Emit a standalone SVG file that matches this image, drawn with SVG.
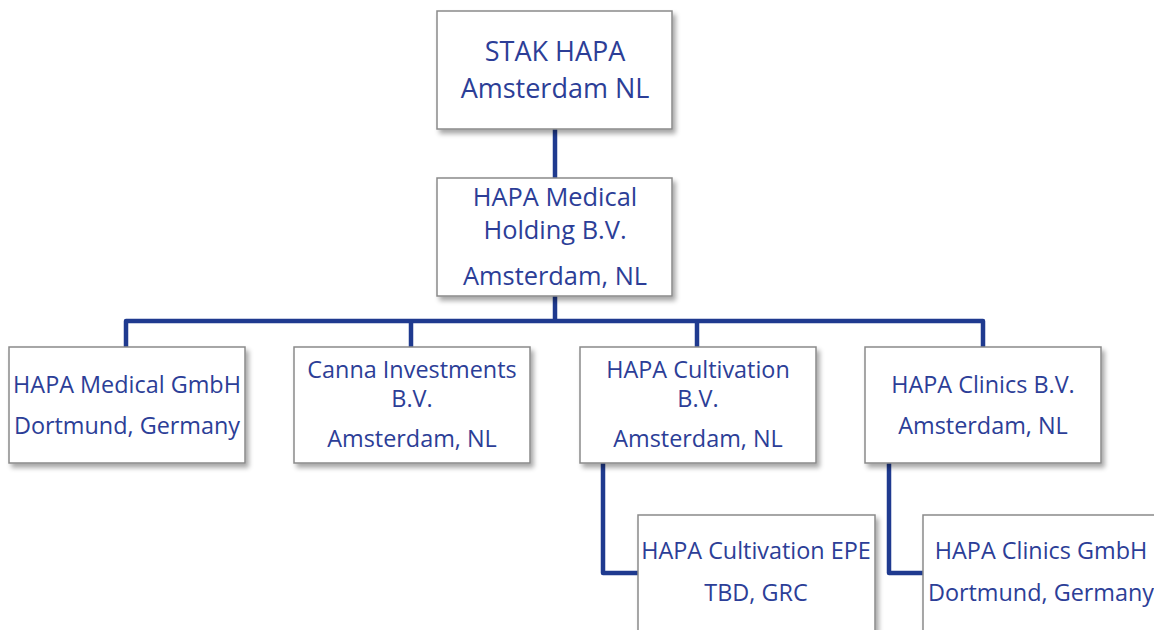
<svg xmlns="http://www.w3.org/2000/svg" width="1154" height="630" viewBox="0 0 1154 630">
<defs>
<filter id="sh" x="-10%" y="-10%" width="130%" height="130%">
<feGaussianBlur in="SourceAlpha" stdDeviation="2.5"/>
<feOffset dx="3" dy="4" result="b"/>
<feComponentTransfer><feFuncA type="linear" slope="0.35"/></feComponentTransfer>
<feMerge><feMergeNode/><feMergeNode in="SourceGraphic"/></feMerge>
</filter>
<style>
.box{fill:#ffffff;stroke:#8a8a8a;stroke-width:1.5;filter:url(#sh)}
.t{font-family:"Open Sans","Liberation Sans",sans-serif;fill:#2c3e97;text-anchor:middle}
.big{font-size:27px}
.mid{font-size:25.4px}
.sm{font-size:23.4px}
.c{fill:none;stroke:#1f3a8f;stroke-width:4.5;stroke-linejoin:round;stroke-linecap:butt}
</style>
</defs>
<rect width="1154" height="630" fill="#ffffff"/>
<g id="connectors">
<path class="c" d="M555 129 V178"/>
<path class="c" d="M555 296 V321"/>
<path class="c" d="M126 347 V321 H983 V347"/>
<path class="c" d="M411 321 V347"/>
<path class="c" d="M697 321 V347"/>
<path class="c" d="M603 463 V573 H638"/>
<path class="c" d="M889 463 V573 H923"/>
</g>
<g id="stak">
<rect class="box" x="437" y="11" width="235" height="118"/>
<text class="t big" x="555" y="61">STAK HAPA</text>
<text class="t big" x="555" y="98">Amsterdam NL</text>
</g>
<g id="holding">
<rect class="box" x="437" y="178" width="235" height="118"/>
<text class="t mid" x="555" y="206">HAPA Medical</text>
<text class="t mid" x="555" y="239">Holding B.V.</text>
<text class="t mid" x="555" y="285">Amsterdam, NL</text>
</g>
<g id="medical-gmbh">
<rect class="box" x="9" y="347" width="236" height="116"/>
<text class="t sm" x="127" y="393">HAPA Medical GmbH</text>
<text class="t sm" x="127" y="434">Dortmund, Germany</text>
</g>
<g id="canna">
<rect class="box" x="294" y="347" width="236" height="116"/>
<text class="t sm" x="412" y="378">Canna Investments</text>
<text class="t sm" x="412" y="407">B.V.</text>
<text class="t sm" x="412" y="447">Amsterdam, NL</text>
</g>
<g id="cultivation">
<rect class="box" x="580" y="347" width="236" height="116"/>
<text class="t sm" x="698" y="378">HAPA Cultivation</text>
<text class="t sm" x="698" y="407">B.V.</text>
<text class="t sm" x="698" y="447">Amsterdam, NL</text>
</g>
<g id="clinics-bv">
<rect class="box" x="865" y="347" width="236" height="116"/>
<text class="t sm" x="983" y="393">HAPA Clinics B.V.</text>
<text class="t sm" x="983" y="434">Amsterdam, NL</text>
</g>
<g id="cultivation-epe">
<rect class="box" x="638" y="515" width="237" height="130"/>
<text class="t sm" x="756" y="559">HAPA Cultivation EPE</text>
<text class="t sm" x="756" y="601">TBD, GRC</text>
</g>
<g id="clinics-gmbh">
<rect class="box" x="923" y="515" width="237" height="130"/>
<text class="t sm" x="1041" y="559">HAPA Clinics GmbH</text>
<text class="t sm" x="1041" y="601">Dortmund, Germany</text>
</g>
</svg>
